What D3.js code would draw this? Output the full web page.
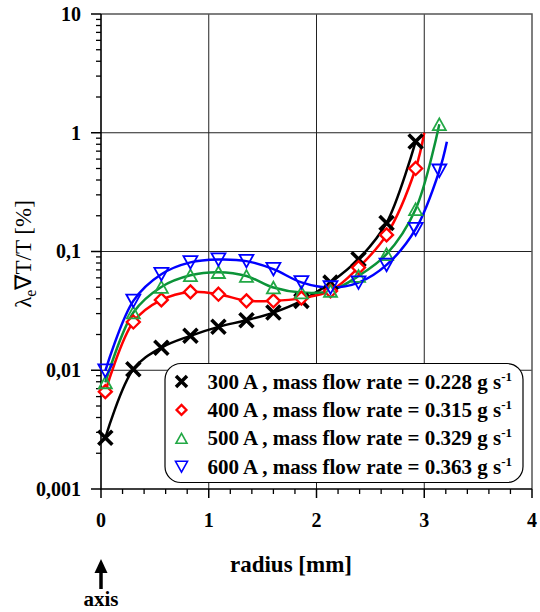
<!DOCTYPE html>
<html>
<head>
<meta charset="utf-8">
<script src="https://cdn.jsdelivr.net/npm/d3@7"></script>
<style>
  body { margin: 0; background: #fff; }
</style>
</head>
<body>
<svg width="540" height="612"></svg>
<script>
// radius positions of the measured points [mm]
const radius = [0.04, 0.30, 0.56, 0.83, 1.09, 1.35, 1.60, 1.86, 2.13, 2.39, 2.65, 2.92, 3.14];

// lambda_e * gradT / T [%]
const v300 = [0.0027, 0.0102, 0.0155, 0.0195, 0.0232, 0.0264, 0.0306, 0.0384, 0.0547, 0.0861, 0.174, 0.843];
const v400 = [0.0066, 0.0255, 0.0391, 0.0457, 0.0437, 0.0384, 0.0384, 0.0405, 0.0465, 0.0732, 0.138, 0.50];
const v500 = [0.0079, 0.0306, 0.0503, 0.0630, 0.0670, 0.0622, 0.0497, 0.0451, 0.0466, 0.0622, 0.0949, 0.227, 1.18];
const v600 = [0.0099, 0.0384, 0.0644, 0.0810, 0.0855, 0.0830, 0.0710, 0.0550, 0.0497, 0.0547, 0.0771, 0.154, 0.478];

// where the fitted curve runs on past the last point (null = stops at point)
const tailX = [null, 3.00, null, 3.21];
const tailY = [null, 1.00, null, 0.84];

const seriesNames = [
  "300 A , mass flow rate = 0.228 g s",
  "400 A , mass flow rate = 0.315 g s",
  "500 A , mass flow rate = 0.329 g s",
  "600 A , mass flow rate = 0.363 g s"
];
const seriesValues = [v300, v400, v500, v600];
const lineColors = ["#000000", "#ff0000", "#0b9338", "#0000ff"];
const markColors = ["#000000", "#ff0000", "#22a845", "#0000ff"];
const markTypes = ["cross", "diamond", "up", "down"];

const yTicks = [10, 1, 0.1, 0.01, 0.001];
const yTickLabels = ["10", "1", "0,1", "0,01", "0,001"];
const xTicks = [0, 1, 2, 3, 4];

const serif = "Liberation Serif";

let svg = d3.select("svg");

let x = d3.scaleLinear().domain([0, 4]).range([101, 532]);
let y = d3.scaleLog().domain([0.001, 10]).range([489, 14]);

// grid
let grid = svg.append("g");
grid.selectAll("line.h")
  .data([1, 0.1, 0.01])
  .enter().append("line")
  .attr("x1", x(0)).attr("x2", x(4))
  .attr("y1", d => y(d)).attr("y2", d => y(d))
  .attr("stroke", "#222").attr("stroke-width", 1);
grid.selectAll("line.v")
  .data([1, 2, 3])
  .enter().append("line")
  .attr("x1", d => x(d)).attr("x2", d => x(d))
  .attr("y1", y(10)).attr("y2", y(0.001))
  .attr("stroke", "#222").attr("stroke-width", 1);
// top and right frame
svg.append("path")
  .attr("d", `M${x(0)},${y(10)}H${x(4)}V${y(0.001)}`)
  .attr("fill", "none")
  .attr("stroke", "#555")
  .attr("stroke-width", 1.5);

// y axis ticks (log minor)
let minorY = [];
[0.001, 0.01, 0.1, 1].forEach(dec => {
  for (let k = 2; k <= 9; k++) minorY.push(dec * k);
});
svg.append("g").selectAll("line")
  .data(minorY)
  .enter().append("line")
  .attr("x1", x(0) - 5).attr("x2", x(0))
  .attr("y1", d => y(d)).attr("y2", d => y(d))
  .attr("stroke", "#000").attr("stroke-width", 1.3);
svg.append("g").selectAll("line")
  .data(yTicks)
  .enter().append("line")
  .attr("x1", x(0) - 10).attr("x2", x(0))
  .attr("y1", d => y(d)).attr("y2", d => y(d))
  .attr("stroke", "#000").attr("stroke-width", 1.5);
svg.append("g").selectAll("text")
  .data(yTicks)
  .enter().append("text")
  .attr("x", 81)
  .attr("y", d => y(d))
  .attr("dy", "0.34em")
  .attr("text-anchor", "end")
  .attr("font-family", serif)
  .attr("font-weight", "bold")
  .attr("font-size", 20)
  .text((d, i) => yTickLabels[i]);

// x axis ticks
let minorX = d3.range(0, 4.001, 0.2).filter(v => Math.abs(v - Math.round(v)) > 0.01);
svg.append("g").selectAll("line")
  .data(minorX)
  .enter().append("line")
  .attr("x1", d => x(d)).attr("x2", d => x(d))
  .attr("y1", y(0.001)).attr("y2", y(0.001) + 5)
  .attr("stroke", "#000").attr("stroke-width", 1.3);
svg.append("g").selectAll("line")
  .data(xTicks)
  .enter().append("line")
  .attr("x1", d => x(d)).attr("x2", d => x(d))
  .attr("y1", y(0.001)).attr("y2", y(0.001) + 9)
  .attr("stroke", "#000").attr("stroke-width", 1.5);
svg.append("g").selectAll("text")
  .data(xTicks)
  .enter().append("text")
  .attr("x", d => x(d))
  .attr("y", 527)
  .attr("text-anchor", "middle")
  .attr("font-family", serif)
  .attr("font-weight", "bold")
  .attr("font-size", 20)
  .text(d => d);

// axis lines
svg.append("path")
  .attr("d", `M${x(0)},${y(10)}V${y(0.001)}H${x(4)}`)
  .attr("fill", "none")
  .attr("stroke", "#000")
  .attr("stroke-width", 1.6);

// axis titles
let yTitle = svg.append("text")
  .attr("transform", "translate(31,254) rotate(-90)")
  .attr("text-anchor", "middle")
  .attr("font-family", serif)
  .attr("font-size", 23);
yTitle.append("tspan").text("\u03bb");
yTitle.append("tspan").attr("font-size", 16).attr("dy", 5).text("e");
yTitle.append("tspan").attr("dy", -5).text("\u2207T/T [%]");

svg.append("text")
  .attr("x", 291).attr("y", 572)
  .attr("text-anchor", "middle")
  .attr("font-family", serif)
  .attr("font-weight", "bold")
  .attr("font-size", 23)
  .text("radius [mm]");

// "axis" arrow
svg.append("line")
  .attr("x1", x(0)).attr("x2", x(0))
  .attr("y1", 589).attr("y2", 569)
  .attr("stroke", "#000").attr("stroke-width", 3.5);
svg.append("path")
  .attr("d", `M${x(0) - 6.5},${573}L${x(0) + 6.5},${573}L${x(0)},${559}Z`)
  .attr("fill", "#000");
svg.append("text")
  .attr("x", x(0)).attr("y", 606)
  .attr("text-anchor", "middle")
  .attr("font-family", serif)
  .attr("font-weight", "bold")
  .attr("font-size", 21)
  .text("axis");

// marker drawing
function drawMarker(g, type, color, s, sw) {
  if (type === "cross") {
    g.append("path")
      .attr("d", `M${-s},${-s}L${s},${s}M${-s},${s}L${s},${-s}`)
      .attr("stroke", color).attr("stroke-width", sw).attr("fill", "none");
  } else if (type === "diamond") {
    g.append("path")
      .attr("d", `M0,${-s}L${s},0L0,${s}L${-s},0Z`)
      .attr("stroke", color).attr("stroke-width", sw).attr("fill", "#fff");
  } else if (type === "up") {
    let h = s * 0.9;
    g.append("path")
      .attr("d", `M0,${-h}L${s},${h}L${-s},${h}Z`)
      .attr("stroke", color).attr("stroke-width", sw).attr("fill", "none");
  } else {
    let h = s * 0.9;
    g.append("path")
      .attr("d", `M0,${h}L${s},${-h}L${-s},${-h}Z`)
      .attr("stroke", color).attr("stroke-width", sw).attr("fill", "none");
  }
}
const markSize = [7, 6.5, 6.5, 7];
const markStroke = [3.6, 2.3, 1.8, 1.8];

let line = d3.line()
  .x(d => x(d[0]))
  .y(d => y(d[1]))
  .curve(d3.curveCatmullRom.alpha(0.5));

seriesValues.forEach((vals, i) => {
  let pts = vals.map((v, j) => [radius[j], v]);
  let curvePts = pts.slice();
  if (tailX[i] != null) curvePts.push([tailX[i], tailY[i]]);
  svg.append("path")
    .datum(curvePts)
    .attr("d", line)
    .attr("fill", "none")
    .attr("stroke", lineColors[i])
    .attr("stroke-width", 2.5);
});

seriesValues.forEach((vals, i) => {
  let pts = vals.map((v, j) => [radius[j], v]);
  svg.append("g").selectAll("g")
    .data(pts)
    .enter().append("g")
    .attr("transform", d => `translate(${x(d[0])},${y(d[1])})`)
    .each(function() {
      drawMarker(d3.select(this), markTypes[i], markColors[i], markSize[i], markStroke[i]);
    });
});

// legend
let legend = svg.append("g");
legend.append("rect")
  .attr("x", 165).attr("y", 363.5)
  .attr("width", 358).attr("height", 119)
  .attr("rx", 16).attr("ry", 16)
  .attr("fill", "#fff")
  .attr("stroke", "#000")
  .attr("stroke-width", 1.2);
const legMarkSize = [5.5, 5, 5.5, 6];
const legMarkStroke = [3.5, 2.2, 1.6, 1.6];
seriesNames.forEach((name, i) => {
  let cy = 381.5 + i * 28.4;
  let mg = legend.append("g").attr("transform", `translate(181.5,${cy})`);
  drawMarker(mg, markTypes[i], markColors[i], legMarkSize[i], legMarkStroke[i]);
  let t = legend.append("text")
    .attr("x", 207.5).attr("y", cy + 7)
    .attr("font-family", serif)
    .attr("font-weight", "bold")
    .attr("font-size", 21);
  t.append("tspan").text(name);
  t.append("tspan").attr("font-size", 13).attr("dy", -8).text("-1");
});
</script>
</body>
</html>
